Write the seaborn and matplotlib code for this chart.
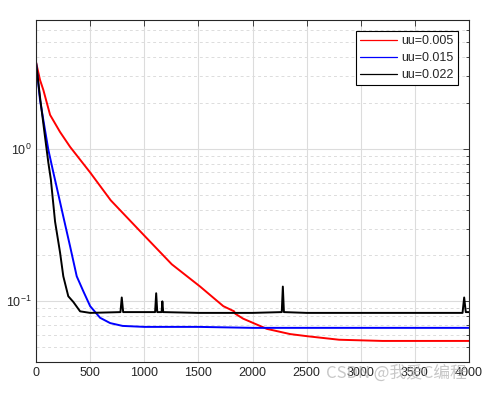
import pandas as pd
import matplotlib
matplotlib.use('Agg')
import matplotlib.pyplot as plt
import matplotlib.ticker as mticker
import seaborn as sns

# values (iteration, error)
red_iter = [0, 37, 68, 130, 222, 315, 407, 500, 690, 1000, 1254, 1516, 1730, 1830, 1840, 1913, 2132, 2347, 2510, 2800, 3200, 3600, 4000]
red_val = [3.7, 2.83, 2.43, 1.67, 1.29, 1.03, 0.85, 0.70, 0.46, 0.27, 0.175, 0.125, 0.093, 0.086, 0.083, 0.077, 0.066, 0.061, 0.059, 0.056, 0.055, 0.055, 0.055]

blue_iter = [0, 37, 83, 114, 160, 190, 252, 315, 376, 438, 500, 592, 685, 800, 1000, 1500, 2000, 2500, 3000, 3500, 4000]
blue_val = [3.7, 2.09, 1.33, 0.985, 0.70, 0.565, 0.36, 0.229, 0.146, 0.116, 0.093, 0.078, 0.072, 0.069, 0.068, 0.068, 0.067, 0.067, 0.067, 0.067, 0.067]

black_iter = [0, 37, 83, 114, 137, 176, 222, 252, 298, 345, 407, 500, 780, 792, 805, 1000, 1100, 1110, 1120, 1160, 1167, 1175, 1500, 2000, 2270, 2280, 2290, 2500, 3000, 3500, 3940, 3955, 3970, 4000]
black_val = [3.7, 2.18, 1.2, 0.81, 0.63, 0.333, 0.209, 0.146, 0.108, 0.099, 0.086, 0.084, 0.085, 0.106, 0.085, 0.085, 0.085, 0.113, 0.085, 0.085, 0.100, 0.085, 0.084, 0.084, 0.085, 0.125, 0.085, 0.084, 0.084, 0.084, 0.084, 0.106, 0.085, 0.085]

labels = ['uu=0.005', 'uu=0.015', 'uu=0.022']
colors = ['#ff0000', '#0000ff', '#000000']

df = pd.concat([
    pd.DataFrame({'iter': red_iter, 'err': red_val, 'mu': labels[0]}),
    pd.DataFrame({'iter': blue_iter, 'err': blue_val, 'mu': labels[1]}),
    pd.DataFrame({'iter': black_iter, 'err': black_val, 'mu': labels[2]}),
])

sns.set_style('white')
plt.rcParams['font.family'] = ['Liberation Sans', 'DejaVu Sans']
plt.rcParams['mathtext.fontset'] = 'custom'
plt.rcParams['mathtext.rm'] = 'Liberation Sans'

fig = plt.figure(figsize=(5.01, 3.95), dpi=100)
ax = fig.add_axes([0.0719, 0.0835, 0.8643, 0.8658])

sns.lineplot(data=df, x='iter', y='err', hue='mu', palette=colors,
             linewidth=1.4, ax=ax, legend=False)

ax.set_yscale('log')
ax.set_xlim(0, 4000)
ax.set_ylim(0.04, 7)
ax.set_xticks(range(0, 4001, 500))
ax.yaxis.set_major_locator(mticker.LogLocator(base=10))
ax.yaxis.set_minor_locator(mticker.LogLocator(base=10, subs=range(2, 10)))
ax.yaxis.set_minor_formatter(mticker.NullFormatter())
ax.set_xlabel('')
ax.set_ylabel('')

ax.grid(True, which='major', color='#dcdcdc', linewidth=0.8, linestyle='-')
ax.grid(True, which='minor', axis='y', color='#dcdcdc', linewidth=0.7, linestyle=(0, (3, 3)))
ax.set_axisbelow(True)

ax.tick_params(which='both', direction='in', top=True, right=True, labelsize=9, colors='#262626')
ax.tick_params(which='major', length=4, width=0.6)
ax.tick_params(which='minor', length=2.5, width=0.6)
for s in ax.spines.values():
    s.set_color('#262626')
    s.set_linewidth(0.8)

handles = [plt.Line2D([], [], color=c, linewidth=0.9) for c in colors]
leg = ax.legend(handles, labels, loc='upper right', fontsize=9, frameon=True,
                fancybox=False, edgecolor='black', framealpha=1,
                handlelength=3.0, borderaxespad=0.9, labelspacing=0.4,
                borderpad=0.3, handletextpad=0.35)
leg.get_frame().set_linewidth(0.8)

# faint watermark in the reference's lower right corner
fig.text(0.65, 0.043, 'CSDN @我爱C编程', fontsize=12, color='#b0b0b0', alpha=0.7,
         family=['Noto Sans CJK SC', 'DejaVu Sans'])

fig.savefig('out.png', dpi=100)
